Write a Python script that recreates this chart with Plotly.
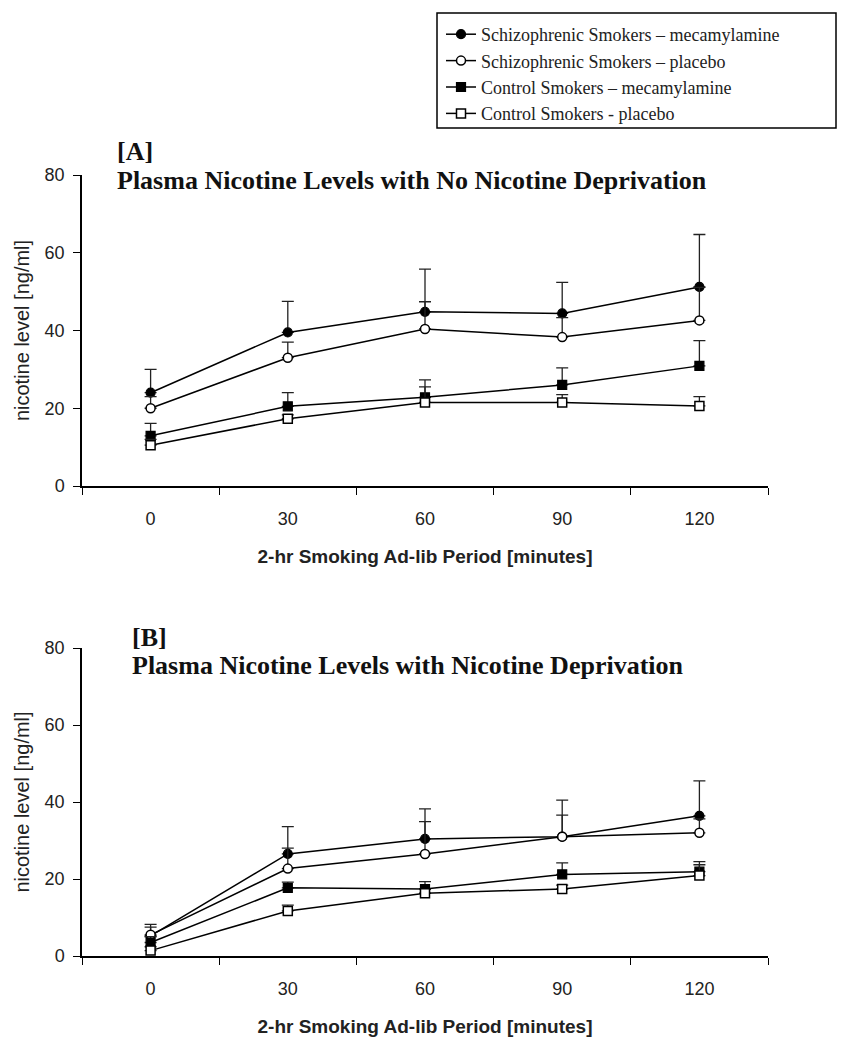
import plotly.graph_objects as go

# ---------------- data ----------------
minutes = ["0", "30", "60", "90", "120"]

series_names = [
    "Schizophrenic Smokers \u2013 mecamylamine",
    "Schizophrenic Smokers \u2013 placebo",
    "Control Smokers \u2013 mecamylamine",
    "Control Smokers - placebo",
]

# Panel A: no nicotine deprivation (mean, upper SE)
a_schiz_mec = [24.0, 39.5, 44.8, 44.4, 51.2]
a_schiz_mec_err = [6.0, 8.0, 11.0, 8.0, 13.5]
a_schiz_plc = [20.0, 33.0, 40.4, 38.3, 42.6]
a_schiz_plc_err = [3.0, 4.0, 7.0, 5.0, 8.5]
a_ctrl_mec = [12.9, 20.5, 22.8, 26.0, 30.9]
a_ctrl_mec_err = [3.2, 3.5, 4.5, 4.4, 6.5]
a_ctrl_plc = [10.5, 17.3, 21.5, 21.5, 20.6]
a_ctrl_plc_err = [1.5, 1.0, 4.0, 2.0, 2.4]

# Panel B: nicotine deprivation
b_schiz_mec = [5.2, 26.5, 30.4, 31.0, 36.4]
b_schiz_mec_err = [3.0, 7.1, 7.8, 9.5, 9.1]
b_schiz_plc = [5.5, 22.7, 26.5, 31.0, 32.0]
b_schiz_plc_err = [2.0, 5.3, 8.4, 5.6, 3.6]
b_ctrl_mec = [3.5, 17.7, 17.4, 21.2, 21.9]
b_ctrl_mec_err = [1.5, 1.5, 1.9, 3.0, 2.6]
b_ctrl_plc = [1.4, 11.7, 16.3, 17.4, 20.9]
b_ctrl_plc_err = [1.0, 1.5, 1.0, 1.0, 2.8]

y_ticks = [0, 20, 40, 60, 80]

# ---------------- styling ----------------
W, H = 849, 1050
OFF = 8  # page body margin offset

marker_styles = [
    dict(symbol="circle", color="black", size=9, line=dict(color="black", width=1.2)),
    dict(symbol="circle", color="white", size=9, line=dict(color="black", width=1.5)),
    dict(symbol="square", color="black", size=9, line=dict(color="black", width=1.2)),
    dict(symbol="square", color="white", size=9, line=dict(color="black", width=1.5)),
]

panels = [
    ("A", [a_schiz_mec, a_schiz_plc, a_ctrl_mec, a_ctrl_plc],
     [a_schiz_mec_err, a_schiz_plc_err, a_ctrl_mec_err, a_ctrl_plc_err]),
    ("B", [b_schiz_mec, b_schiz_plc, b_ctrl_mec, b_ctrl_plc],
     [b_schiz_mec_err, b_schiz_plc_err, b_ctrl_mec_err, b_ctrl_plc_err]),
]

fig = go.Figure()
for pi, (label, vals, errs) in enumerate(panels):
    xa = "x" if pi == 0 else "x2"
    ya = "y" if pi == 0 else "y2"
    for si in range(4):
        fig.add_trace(go.Scatter(
            x=minutes, y=vals[si], name=series_names[si],
            mode="lines+markers",
            line=dict(color="black", width=1.5),
            marker=marker_styles[si],
            error_y=dict(type="data", symmetric=False, array=errs[si],
                         arrayminus=[0] * len(errs[si]),
                         color="#222", thickness=1.3, width=6),
            xaxis=xa, yaxis=ya,
            showlegend=(pi == 0),
        ))

def px_x(p):
    return (p - OFF) / W

def px_y(p):
    return 1 - (p - OFF) / H

xdom = [px_x(82), px_x(768)]
sans = "Liberation Sans, Arial, sans-serif"
serif = "Liberation Serif, Times New Roman, serif"
axis_font = dict(family=sans, size=18, color="#222")
xcommon = dict(
    type="category", categoryorder="array", categoryarray=minutes,
    range=[-0.5, len(minutes) - 0.5],
    showline=True, linecolor="black", linewidth=1.5, mirror=False,
    ticks="outside", ticklen=7, tickwidth=1.3, tickcolor="black",
    tickson="boundaries", showgrid=False, zeroline=False,
    tickfont=axis_font, ticklabelstandoff=16, domain=xdom, automargin=False,
    title=dict(text="<b>2-hr Smoking Ad-lib Period [minutes]</b>",
               font=dict(family=sans, size=19, color="#222"),
               standoff=21),
)
ycommon = dict(
    range=[0, 80], tickvals=y_ticks, showline=True, linecolor="black", linewidth=1.5,
    ticks="outside", ticklen=7, tickwidth=1.3, tickcolor="black",
    showgrid=False, zeroline=False, tickfont=axis_font, ticklabelstandoff=5,
    automargin=False,
    title=dict(text="nicotine level [ng/ml]",
               font=dict(family=sans, size=20, color="#222"),
               standoff=10),
)

fig.update_layout(
    width=W, height=H,
    margin=dict(l=0, r=0, t=0, b=0, autoexpand=False),
    plot_bgcolor="white", paper_bgcolor="white",
    xaxis=dict(**xcommon, anchor="y"),
    yaxis=dict(**ycommon, domain=[px_y(486), px_y(175)], anchor="x"),
    xaxis2=dict(**xcommon, anchor="y2"),
    yaxis2=dict(**ycommon, domain=[px_y(956), px_y(648)], anchor="x2"),
    legend=dict(
        x=px_x(441), y=px_y(16), xanchor="left", yanchor="top",
        bgcolor="rgba(0,0,0,0)", borderwidth=0,
        font=dict(family=serif, size=18, color="#222"),
        itemwidth=30,
    ),
    shapes=[dict(type="rect", xref="paper", yref="paper",
                 x0=px_x(437), x1=px_x(836), y0=px_y(128), y1=px_y(13),
                 line=dict(color="black", width=1.5))],
)

title_font = dict(family=serif, size=26, color="#111")
annots = [
    ("<b>[A]</b>", 115, 152),
    ("<b>Plasma Nicotine Levels with No Nicotine Deprivation</b>", 115, 180),
    ("<b>[B]</b>", 130, 637),
    ("<b>Plasma Nicotine Levels with Nicotine Deprivation</b>", 130, 665),
]
for txt, x, y in annots:
    fig.add_annotation(text=txt, xref="paper", yref="paper", x=px_x(x), y=px_y(y),
                       xanchor="left", yanchor="middle", showarrow=False, font=title_font)

fig.write_html("out.html")
